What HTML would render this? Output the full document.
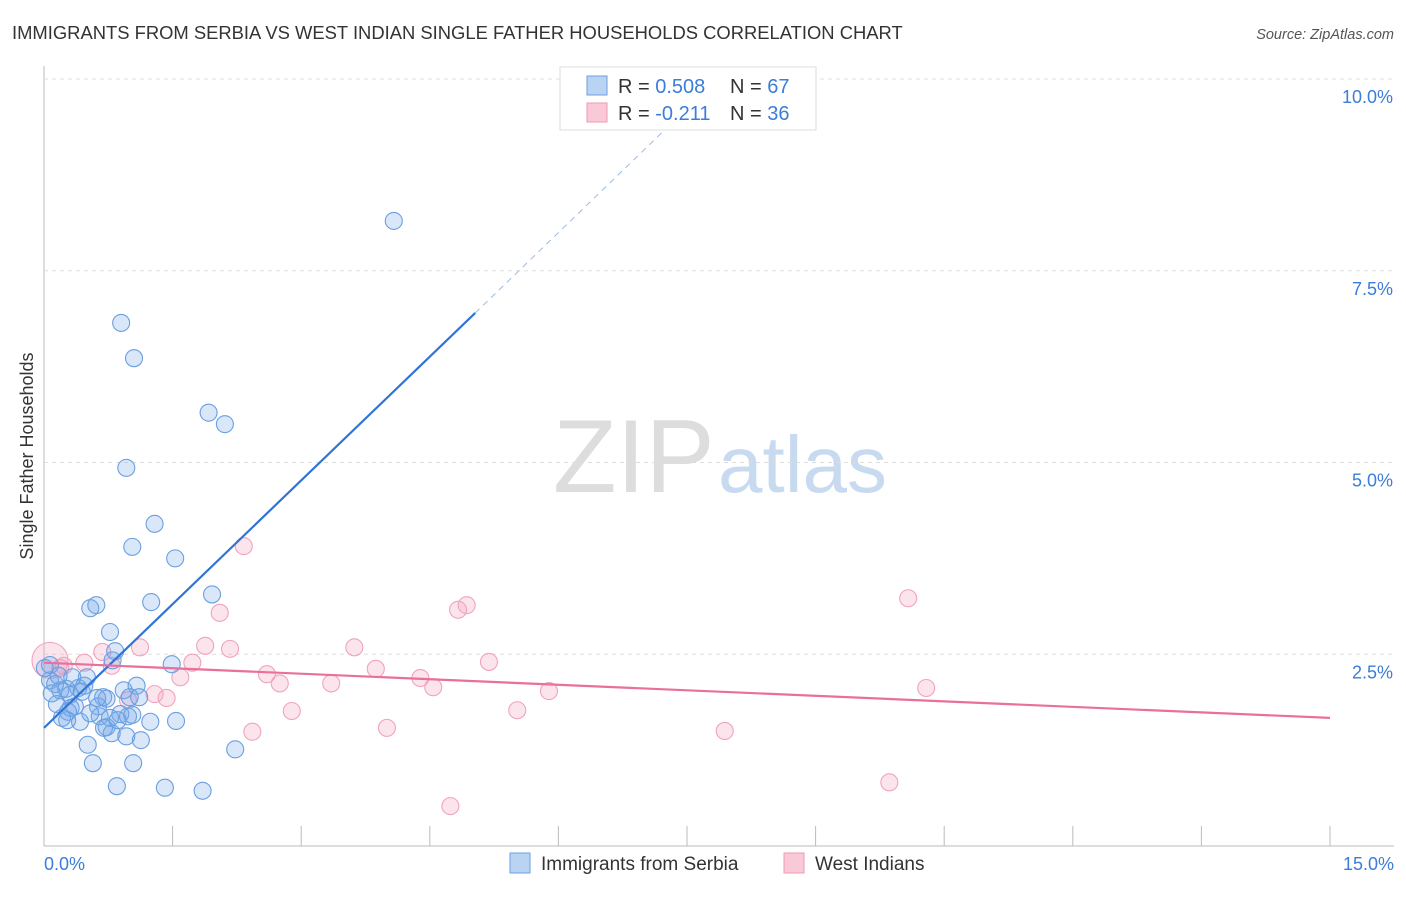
<!DOCTYPE html>
<html><head><meta charset="utf-8"><style>
body{margin:0;background:#fff;font-family:"Liberation Sans",sans-serif;}
svg text{font-family:"Liberation Sans",sans-serif;}
</style></head><body>
<svg id="c" width="1406" height="892" xmlns="http://www.w3.org/2000/svg">
<text x="12" y="39" font-size="18.4" fill="#333">IMMIGRANTS FROM SERBIA VS WEST INDIAN SINGLE FATHER HOUSEHOLDS CORRELATION CHART</text>
<text x="1394" y="39" font-size="14.5" fill="#555" text-anchor="end" font-style="italic">Source: ZipAtlas.com</text>
<text x="33" y="456" font-size="18" fill="#333" text-anchor="middle" transform="rotate(-90 33 456)">Single Father Households</text>
<g><text x="553" y="492" font-size="104" fill="#ddd" font-family="Liberation Serif">ZIP</text><text x="718" y="492" font-size="80" fill="#c8daf0">atlas</text></g>
<g id="grid"></g><g id="marks"></g><g id="trends"></g>
<g>
<rect x="560" y="67" width="256" height="63" fill="#fff" stroke="#ddd"/>
<rect x="587" y="76" width="20" height="19" fill="#b9d3f3" stroke="#6a9fe0"/>
<rect x="587" y="103" width="20" height="19" fill="#f9c9d8" stroke="#ee9ab5"/>
<text x="618" y="93" font-size="20" fill="#333">R = <tspan fill="#3b7dd8">0.508</tspan></text>
<text x="730" y="93" font-size="20" fill="#333">N = <tspan fill="#3b7dd8">67</tspan></text>
<text x="618" y="120" font-size="20" fill="#333">R = <tspan fill="#3b7dd8">-0.211</tspan></text>
<text x="730" y="120" font-size="20" fill="#333">N = <tspan fill="#3b7dd8">36</tspan></text>
</g>
<g>
<rect x="510" y="853" width="20" height="20" fill="#b9d3f3" stroke="#6a9fe0"/>
<text x="541" y="870" font-size="19" fill="#333">Immigrants from Serbia</text>
<rect x="784" y="853" width="20" height="20" fill="#f9c9d8" stroke="#ee9ab5"/>
<text x="815" y="870" font-size="19" fill="#333">West Indians</text>
</g>
</svg>
<script>
const xTicks=[0,1.5,3,4.5,6,7.5,9,10.5,12,13.5,15];
const yTicks=[2.5,5,7.5,10];
const yTickLabels=["2.5%","5.0%","7.5%","10.0%"];
const serbiaX=[4.08,0.90,1.05,1.92,2.11,0.96,1.29,1.03,1.53,1.96,1.25,0.54,0.61,0.77,0.83,0.80,1.49,0.50,0.07,0.13,0.19,0.26,0.40,0.30,0.44,0.93,1.08,0.69,1.00,1.11,0.15,0.31,0.36,0.63,0.73,0.28,0.65,0.89,0.98,0.77,1.54,0.42,0.27,0.54,0.73,0.79,0.96,1.13,0.51,2.23,0.57,1.04,0.85,1.41,1.85,0.07,0.17,0.01,0.09,0.21,0.70,0.86,1.03,0.33,0.47,0.62,1.24];
const serbiaY=[8.15,6.82,6.36,5.65,5.50,4.93,4.20,3.90,3.75,3.28,3.18,3.10,3.14,2.79,2.54,2.42,2.37,2.20,2.16,2.11,2.03,2.05,2.06,1.97,2.01,2.03,2.09,1.94,1.94,1.94,1.85,1.80,1.82,1.82,1.92,1.75,1.69,1.72,1.69,1.67,1.63,1.62,1.64,1.73,1.55,1.47,1.43,1.38,1.32,1.26,1.08,1.08,0.78,0.76,0.72,2.36,2.22,2.32,1.99,1.67,1.54,1.64,1.71,2.20,2.09,1.93,1.62];
const westX=[2.33,10.08,4.93,4.83,2.05,1.12,1.88,2.17,3.62,0.68,5.19,0.79,1.73,0.23,0.47,3.87,2.60,1.59,2.75,3.35,4.39,4.54,10.29,5.89,1.29,1.43,0.98,2.89,5.52,2.43,4.00,7.94,9.86,4.74,0.07,0.19];
const westY=[3.91,3.23,3.14,3.08,3.04,2.59,2.61,2.57,2.59,2.53,2.40,2.35,2.39,2.35,2.39,2.31,2.24,2.20,2.12,2.12,2.19,2.07,2.06,2.02,1.98,1.93,1.90,1.76,1.77,1.49,1.54,1.50,0.83,0.52,2.42,2.32];
const serbiaTrend=[0,1.54,5.03,6.95,7.54,9.66];
const westTrend=[0,2.39,15,1.67];
const X=v=>44+v*(1330-44)/15, Y=v=>846-v*(846-79)/10;
const NS="http://www.w3.org/2000/svg";
function mk(p,t,a){const e=document.createElementNS(NS,t);for(const k in a)e.setAttribute(k,a[k]);p.appendChild(e);return e;}
const svg=document.getElementById('c'),grid=document.getElementById('grid'),marks=document.getElementById('marks'),tr=document.getElementById('trends');
let ax=mk(grid,'line',{x1:44,y1:66,x2:44,y2:846,stroke:'#bbb'});


let bx=mk(grid,'line',{x1:44,y1:846,x2:1394,y2:846,stroke:'#bbb'});


yTicks.forEach((v,i)=>{
 const g=mk(grid,'line',{x1:44,y1:Y(v),x2:1394,y2:Y(v),stroke:'#ddd','stroke-dasharray':'4,4'});
 
 
 const t=mk(grid,'text',{x:1393,y:Y(v)+24,'font-size':18,fill:'#3b7dd8','text-anchor':'end'});t.textContent=yTickLabels[i];
 
 
});
xTicks.forEach(v=>{
 const l=mk(grid,'line',{x1:X(v),y1:826,x2:X(v),y2:846,stroke:'#bbb'});
 
 
});
[[0,"0.0%",'start',44],[15,"15.0%",'end',1394]].forEach(([v,s,a,x])=>{
 const t=mk(grid,'text',{x:x,y:870,'font-size':18,fill:'#3b7dd8','text-anchor':a});t.textContent=s;
 
 
});
westX.forEach((v,i)=>{
 const c=mk(marks,'circle',{cx:X(v),cy:Y(westY[i]),r:i==34?18:8.5,fill:'rgba(245,165,195,0.3)',stroke:'#f0a3bc','stroke-width':1.1});
 
 
});
serbiaX.forEach((v,i)=>{
 const c=mk(marks,'circle',{cx:X(v),cy:Y(serbiaY[i]),r:8.5,fill:'rgba(120,170,235,0.28)',stroke:'#6a9fe0','stroke-width':1.1});
 
 
});
let l1=mk(tr,'line',{x1:X(serbiaTrend[0]),y1:Y(serbiaTrend[1]),x2:X(serbiaTrend[2]),y2:Y(serbiaTrend[3]),stroke:'#2f74d6','stroke-width':2.2});


let l2=mk(tr,'line',{x1:X(serbiaTrend[2]),y1:Y(serbiaTrend[3]),x2:X(serbiaTrend[4]),y2:Y(serbiaTrend[5]),stroke:'#9bbbe6','stroke-width':1,'stroke-dasharray':'6,5'});


let l3=mk(tr,'line',{x1:X(westTrend[0]),y1:Y(westTrend[1]),x2:X(westTrend[2]),y2:Y(westTrend[3]),stroke:'#e8709a','stroke-width':2.2});


</script>
</body></html>
